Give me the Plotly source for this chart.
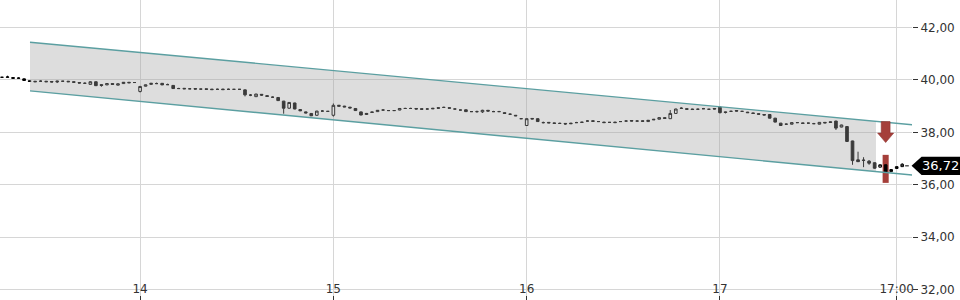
import plotly.graph_objects as go

# ---------------- data (15-minute candles) ----------------
open_ = [40.10, 40.10, 40.09, 40.06, 40.04, 39.97, 39.95, 39.95, 39.95, 39.94,
         39.96, 39.95, 39.95, 39.93, 39.90, 39.87, 39.83, 39.93, 39.82, 39.81,
         39.86, 39.80, 39.86, 39.91, 39.90, 39.56, 39.76, 39.83, 39.86, 39.87,
         39.82, 39.79, 39.67, 39.68, 39.66, 39.67, 39.65, 39.66, 39.65, 39.64,
         39.65, 39.64, 39.64, 39.64, 39.62, 39.42, 39.36, 39.45, 39.40, 39.34,
         39.33, 39.19, 38.92, 39.12, 38.87, 38.78, 38.72, 38.65, 38.81, 38.80,
         38.65, 38.99, 39.00, 38.96, 38.91, 38.78, 38.68, 38.78, 38.79, 38.85,
         38.83, 38.83, 38.85, 38.91, 38.91, 38.91, 38.90, 38.89, 38.92, 38.94,
         38.95, 38.94, 38.89, 38.85, 38.86, 38.79, 38.79, 38.78, 38.84, 38.79,
         38.79, 38.75, 38.69, 38.65, 38.52, 38.26, 38.53, 38.52, 38.37, 38.38,
         38.36, 38.34, 38.34, 38.35, 38.37, 38.39, 38.43, 38.44, 38.41, 38.39,
         38.38, 38.39, 38.41, 38.43, 38.45, 38.43, 38.44, 38.41, 38.50, 38.50,
         38.56, 38.52, 38.72, 38.91, 38.90, 38.89, 38.88, 38.90, 38.88, 38.91,
         38.96, 38.78, 38.80, 38.83, 38.80, 38.77, 38.74, 38.71, 38.68, 38.68,
         38.54, 38.35, 38.31, 38.31, 38.37, 38.36, 38.35, 38.33, 38.31, 38.38,
         38.40, 38.43, 38.20, 38.22, 37.67, 36.95, 36.94, 36.90, 36.84, 36.67,
         36.76, 36.50, 36.62, 36.69]
high = [40.11, 40.16, 40.09, 40.10, 40.05, 39.97, 39.95, 39.99, 39.96, 39.95,
        39.97, 39.96, 39.96, 39.94, 39.91, 39.91, 39.95, 39.94, 39.83, 39.87,
        39.87, 39.86, 39.92, 39.92, 39.91, 39.77, 39.82, 39.88, 39.90, 39.88,
        39.86, 39.80, 39.70, 39.68, 39.69, 39.68, 39.66, 39.66, 39.65, 39.67,
        39.66, 39.67, 39.65, 39.65, 39.63, 39.46, 39.47, 39.46, 39.41, 39.37,
        39.34, 39.20, 39.15, 39.13, 38.88, 38.79, 38.73, 38.82, 38.85, 38.81,
        39.10, 39.04, 39.01, 38.97, 38.92, 38.79, 38.74, 38.79, 38.85, 38.88,
        38.84, 38.84, 38.92, 38.94, 38.94, 38.92, 38.91, 38.92, 38.93, 38.95,
        38.98, 38.95, 38.90, 38.86, 38.87, 38.80, 38.83, 38.86, 38.85, 38.82,
        38.82, 38.76, 38.72, 38.66, 38.53, 38.53, 38.54, 38.53, 38.41, 38.39,
        38.37, 38.37, 38.35, 38.36, 38.40, 38.40, 38.46, 38.45, 38.42, 38.40,
        38.39, 38.40, 38.42, 38.46, 38.46, 38.46, 38.45, 38.47, 38.51, 38.57,
        38.57, 38.85, 38.90, 38.96, 38.91, 38.90, 38.91, 38.93, 38.89, 38.92,
        38.98, 38.79, 38.83, 38.84, 38.81, 38.78, 38.75, 38.72, 38.69, 38.69,
        38.55, 38.36, 38.34, 38.38, 38.38, 38.37, 38.36, 38.36, 38.39, 38.39,
        38.41, 38.44, 38.29, 38.23, 37.68, 37.26, 37.05, 36.94, 36.85, 36.77,
        36.77, 36.59, 36.70, 36.82]
low = [40.09, 40.10, 40.05, 40.05, 39.97, 39.93, 39.92, 39.92, 39.92, 39.91,
       39.88, 39.94, 39.92, 39.90, 39.87, 39.86, 39.82, 39.77, 39.74, 39.80,
       39.82, 39.79, 39.85, 39.88, 39.89, 39.52, 39.75, 39.82, 39.84, 39.80,
       39.81, 39.66, 39.66, 39.65, 39.65, 39.64, 39.64, 39.63, 39.62, 39.63,
       39.62, 39.63, 39.63, 39.63, 39.37, 39.38, 39.35, 39.39, 39.36, 39.33,
       39.20, 38.71, 38.90, 38.88, 38.81, 38.73, 38.62, 38.63, 38.80, 38.79,
       38.60, 38.98, 38.96, 38.92, 38.82, 38.65, 38.67, 38.75, 38.78, 38.84,
       38.82, 38.82, 38.84, 38.90, 38.90, 38.88, 38.87, 38.88, 38.89, 38.91,
       38.94, 38.91, 38.88, 38.84, 38.78, 38.78, 38.75, 38.74, 38.80, 38.78,
       38.78, 38.71, 38.68, 38.62, 38.51, 38.24, 38.50, 38.40, 38.34, 38.35,
       38.33, 38.33, 38.29, 38.32, 38.36, 38.37, 38.42, 38.41, 38.40, 38.36,
       38.37, 38.36, 38.40, 38.42, 38.42, 38.42, 38.41, 38.40, 38.47, 38.49,
       38.52, 38.51, 38.71, 38.90, 38.87, 38.86, 38.87, 38.89, 38.87, 38.88,
       38.72, 38.72, 38.79, 38.80, 38.79, 38.74, 38.71, 38.68, 38.65, 38.53,
       38.38, 38.25, 38.30, 38.30, 38.36, 38.33, 38.34, 38.32, 38.30, 38.35,
       38.37, 38.09, 38.19, 37.64, 36.76, 36.87, 36.67, 36.76, 36.61, 36.66,
       36.49, 36.49, 36.61, 36.68]
close = [40.10, 40.11, 40.06, 40.07, 39.98, 39.94, 39.93, 39.95, 39.93, 39.92,
         39.93, 39.95, 39.93, 39.91, 39.88, 39.87, 39.93, 39.78, 39.79, 39.86,
         39.83, 39.85, 39.91, 39.89, 39.90, 39.75, 39.81, 39.87, 39.86, 39.81,
         39.82, 39.67, 39.67, 39.66, 39.66, 39.65, 39.65, 39.64, 39.63, 39.64,
         39.63, 39.64, 39.64, 39.64, 39.43, 39.42, 39.46, 39.42, 39.37, 39.34,
         39.21, 38.92, 39.14, 38.89, 38.82, 38.74, 38.63, 38.81, 38.81, 38.80,
         39.03, 39.03, 38.97, 38.93, 38.83, 38.66, 38.72, 38.76, 38.84, 38.85,
         38.83, 38.83, 38.91, 38.91, 38.91, 38.89, 38.88, 38.89, 38.90, 38.92,
         38.95, 38.92, 38.89, 38.85, 38.79, 38.79, 38.79, 38.84, 38.81, 38.79,
         38.79, 38.72, 38.69, 38.63, 38.52, 38.52, 38.51, 38.41, 38.37, 38.36,
         38.34, 38.34, 38.32, 38.33, 38.37, 38.38, 38.43, 38.42, 38.41, 38.37,
         38.38, 38.37, 38.41, 38.43, 38.43, 38.43, 38.42, 38.46, 38.48, 38.56,
         38.53, 38.72, 38.89, 38.92, 38.88, 38.87, 38.88, 38.90, 38.88, 38.89,
         38.75, 38.76, 38.80, 38.81, 38.80, 38.75, 38.72, 38.69, 38.66, 38.54,
         38.39, 38.26, 38.31, 38.37, 38.37, 38.34, 38.35, 38.33, 38.38, 38.36,
         38.38, 38.16, 38.28, 37.65, 36.92, 36.88, 36.93, 36.82, 36.63, 36.76,
         36.50, 36.58, 36.69, 36.78]

last_price = 36.72
last_price_text = "36,72"

# trading days on the axis (candle index of each session's first candle)
day_labels = ["14", "15", "16", "17"]
day_start_idx = [25, 60, 95, 130]
time_label = "17:00"
time_idx = 162

# price axis ticks
price_ticks = [32, 34, 36, 38, 40, 42]

# trend channel drawing (candle index, price)
channel_x = [5.07, 164.8]
channel_top = [41.44, 38.29]
channel_bottom = [39.58, 36.37]
channel_fill_x = [5.07, 158.25]
channel_fill_top = [41.44, 38.42]
channel_fill_bottom = [39.58, 36.50]

# sell signal on this candle
signal_idx = 160

# ---------------- figure ----------------
idx = list(range(len(close)))
fig = go.Figure()

fig.add_trace(go.Scatter(
    x=[channel_fill_x[0], channel_fill_x[1], channel_fill_x[1], channel_fill_x[0]],
    y=[channel_fill_top[0], channel_fill_top[1], channel_fill_bottom[1], channel_fill_bottom[0]],
    fill="toself", fillcolor="rgba(160,160,160,0.36)", mode="lines",
    line=dict(width=0), hoverinfo="skip"))

fig.add_trace(go.Candlestick(
    x=idx, open=open_, high=high, low=low, close=close,
    increasing=dict(fillcolor="#ffffff", line=dict(color="#000000", width=1)),
    decreasing=dict(fillcolor="#000000", line=dict(color="#000000", width=1)),
    whiskerwidth=0, hoverinfo="skip"))

for ys in (channel_top, channel_bottom):
    fig.add_trace(go.Scatter(x=channel_x, y=ys, mode="lines",
                             line=dict(color="#5b9fa1", width=1.4), hoverinfo="skip"))

red = "#a53f3a"
s_hi = high[signal_idx]
s_lo = low[signal_idx]
# highlight bar behind the signal candle
fig.add_shape(type="rect", xref="x", yref="y",
              x0=signal_idx - 0.55, x1=signal_idx + 0.55,
              y0=s_lo - 0.42, y1=s_hi + 0.37,
              fillcolor=red, line=dict(width=0), layer="below")
# down arrow above it
ax0 = signal_idx
top = s_hi + 1.64
mid = s_hi + 1.20
tip = s_hi + 0.84
arrow = (f"M {ax0-0.8},{top} L {ax0+0.8},{top} L {ax0+0.8},{mid} L {ax0+1.45},{mid} "
         f"L {ax0},{tip} L {ax0-1.45},{mid} L {ax0-0.8},{mid} Z")
fig.add_shape(type="path", xref="x", yref="y", path=arrow,
              fillcolor=red, line=dict(color="#8e3430", width=0.6), layer="above")

# last price tag on the price axis
h = 0.35
tag = (f"M 0.9995,{last_price} L 1.0105,{last_price + h} L 1.0526,{last_price + h} "
       f"L 1.0526,{last_price - h} L 1.0105,{last_price - h} Z")
fig.add_shape(type="path", xref="paper", yref="y", path=tag,
              fillcolor="#000000", line=dict(width=0), layer="above")
fig.add_shape(type="line", xref="paper", yref="y", x0=0.9925, x1=0.9965,
              y0=last_price, y1=last_price, line=dict(color="#000000", width=1))
fig.add_annotation(xref="paper", yref="y", x=1.031, y=last_price, text=last_price_text,
                   xanchor="center", yanchor="middle", showarrow=False,
                   font=dict(color="#ffffff", size=13, family="DejaVu Sans"))

fig.update_layout(
    width=960, height=300,
    margin=dict(l=0, r=48, t=0, b=0),
    paper_bgcolor="#ffffff", plot_bgcolor="#ffffff",
    showlegend=False, separators=",.", boxgap=0.32,
    font=dict(family="DejaVu Sans", size=12, color="#333333"),
    xaxis=dict(range=[-0.362, 164.77], tickmode="array",
               tickvals=day_start_idx + [time_idx], ticktext=day_labels + [time_label],
               showgrid=True, gridcolor="#d6d6d6", gridwidth=1,
               ticks="inside", ticklen=4, tickcolor="#333333",
               ticklabelposition="inside", ticklabeloverflow="allow",
               zeroline=False, showline=False,
               rangeslider=dict(visible=False), tickfont=dict(size=12, color="#333333")),
    yaxis=dict(side="right", range=[31.60, 43.05], tickmode="array", tickvals=price_ticks,
               tickformat=".2f", showgrid=True, gridcolor="#d6d6d6", gridwidth=1,
               ticks="outside", ticklen=5, tickcolor="#333333", zeroline=False,
               showline=False, tickfont=dict(size=12, color="#333333")),
)

fig.write_html("out.html")
